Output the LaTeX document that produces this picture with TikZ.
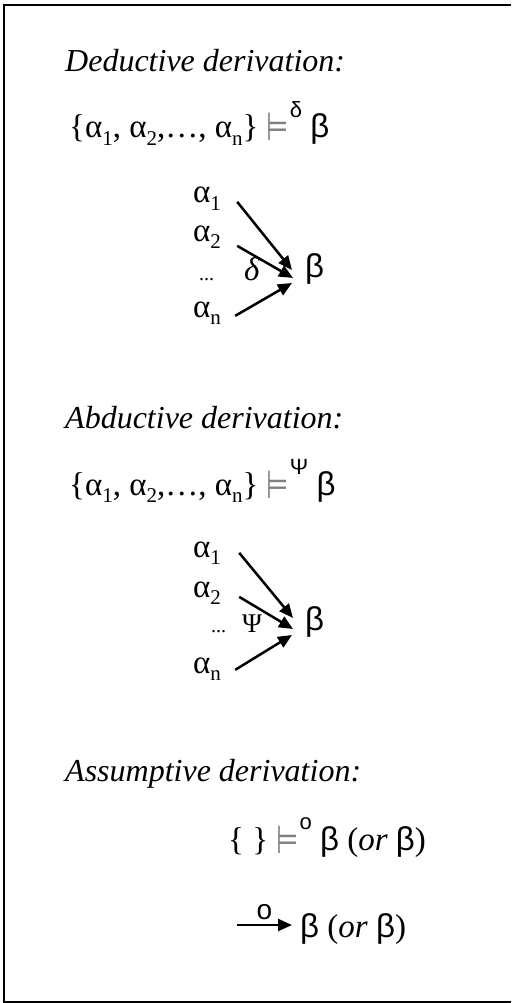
\documentclass[tikz,border=0pt]{standalone}
\usepackage{fontspec}
\setmainfont{Liberation Serif}
\newfontfamily\sansgr{Liberation Sans}
\newfontfamily\symfont{DejaVu Sans}
\usepackage{graphicx}
\usepackage{xcolor}
\usetikzlibrary{arrows.meta, positioning}

% subscript, sans beta and the double turnstile
\newcommand{\sub}[1]{\raisebox{-0.22em}{\fontsize{21}{21}\selectfont #1}}
\newcommand{\bt}{{\sansgr β}}
\newcommand{\ent}[1]{{\color{gray}\fontsize{30}{30}\selectfont\symfont\raisebox{-3pt}{\scalebox{0.85}[1.3]{⊨}}}\kern1pt\raisebox{0.62em}{\fontsize{22}{22}\selectfont\sansgr #1}}

\begin{document}
\begin{tikzpicture}[x=1pt, y=-1pt, >={Triangle[length=14pt,width=12pt]},
  txt/.style={inner sep=0pt, anchor=base west, font=\fontsize{33}{38}\selectfont},
  title/.style={txt, font=\fontsize{32}{38}\selectfont\itshape},
  smalldots/.style={txt, font=\fontsize{20}{20}\selectfont},
  arr/.style={->, line width=2.5pt}]
\useasboundingbox (0,0) rectangle (511,1003);

% Frame
\draw[line width=2pt] (511,5) -- (4,5) -- (4,1002) -- (511,1002);

% Deductive derivation
\node[title] (dedtitle) at (65,72) {Deductive derivation:};
\node[txt] (dedform) at (69,138) {\{α\sub{1}, α\sub{2},…, α\sub{n}\} \ent{δ} \bt};

\node[txt] (da1) at (193,203) {α\sub{1}};
\node[txt] (da2) at (193,241) {α\sub{2}};
\node[smalldots] (ddots) at (199,280) {...};
\node[txt] (dan) at (193,317) {α\sub{n}};
\node[txt] (db) at (305,277) {\bt};
\node[txt] (ddelta) at (244,280) {\itshape δ};

\draw[arr] ([shift={(16,3)}]da1.east) -- ([shift={(-13,1.5)}]db.west);
\draw[arr] ([shift={(16,9)}]da2.east) -- ([shift={(-12,9.5)}]db.west);
\draw[arr] ([shift={(14,3)}]dan.east) -- ([shift={(-13,14.5)}]db.west);

% Abductive derivation
\node[title] (abdtitle) at (65,428) {Abductive derivation:};
\node[txt] (abdform) at (69,495) {\{α\sub{1}, α\sub{2},…, α\sub{n}\} \ent{Ψ} \bt};

\node[txt] (aa1) at (193,557) {α\sub{1}};
\node[txt] (aa2) at (193,597) {α\sub{2}};
\node[smalldots] (adots) at (211,632) {...};
\node[txt, font=\fontsize{27}{27}\selectfont] (apsi) at (242,632) {Ψ};
\node[txt] (aan) at (193,673) {α\sub{n}};
\node[txt] (ab) at (305,630) {\bt};

\draw[arr] ([shift={(18,0)}]aa1.east) -- ([shift={(-12,-3.5)}]ab.west);
\draw[arr] ([shift={(18,4)}]aa2.east) -- ([shift={(-12,7.5)}]ab.west);
\draw[arr] ([shift={(14,1)}]aan.east) -- ([shift={(-13,13.5)}]ab.west);

% Assumptive derivation
\node[title] (asstitle) at (65,781) {Assumptive derivation:};
\node[txt] (assform) at (228,850) {\{ \} \ent{o} \bt{} (\textit{or} \bt)};

\coordinate (sstart) at (237,925);
\node[txt] (sb) at (300,937) {\bt{} (\textit{or} \bt)};
\draw[arr] (sstart) -- node[above=4pt, inner sep=0pt, font=\fontsize{28}{28}\selectfont\sansgr] (so) {o} ([shift={(-8,0)}]sb.west |- sstart);
\end{tikzpicture}
\end{document}
